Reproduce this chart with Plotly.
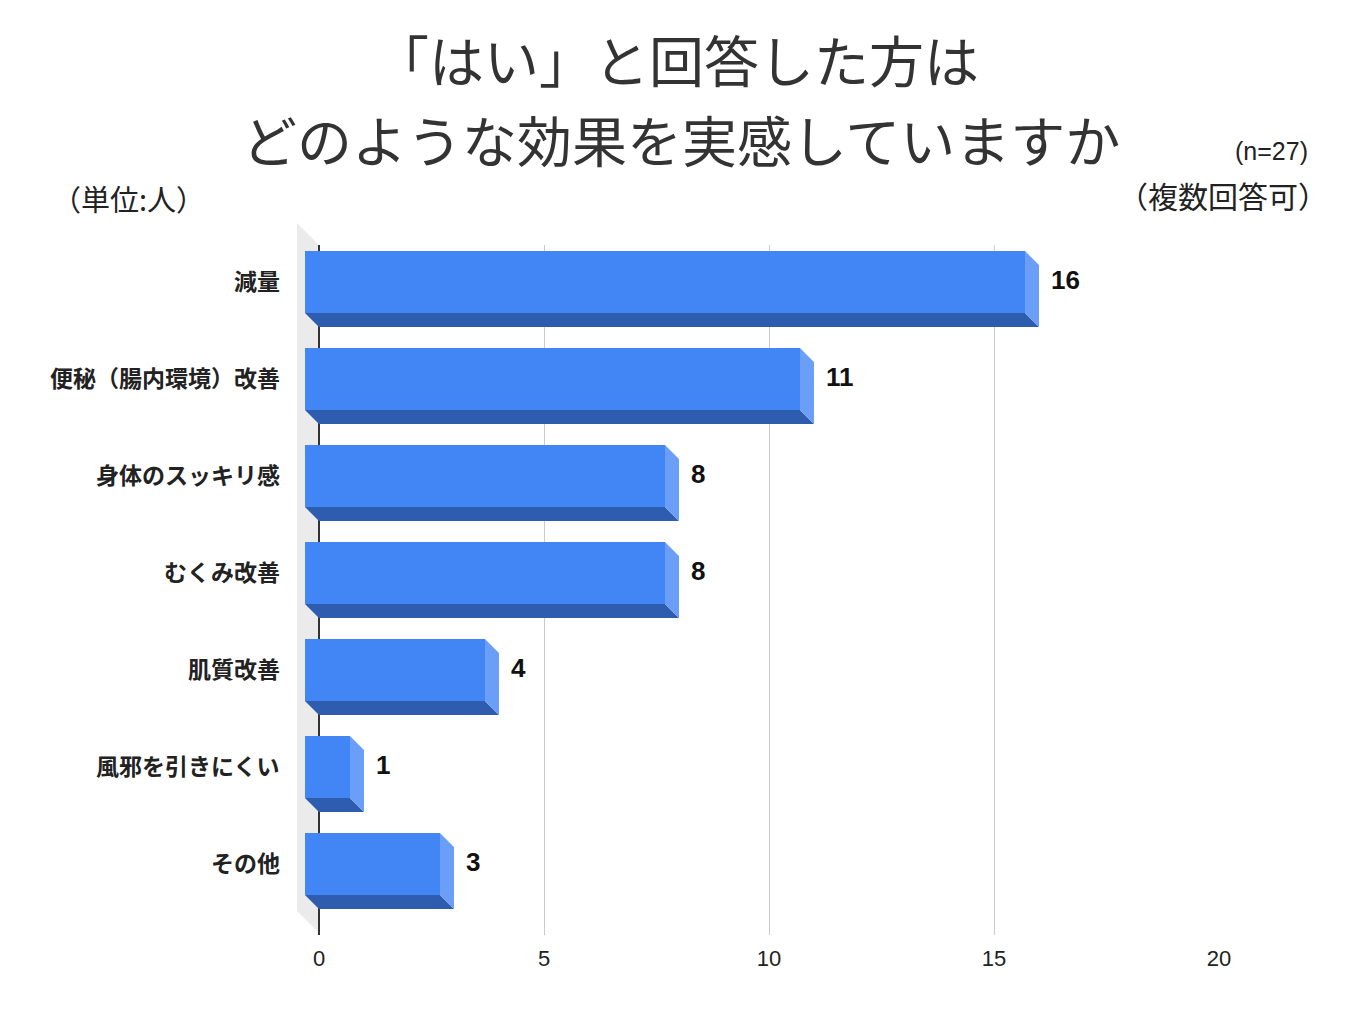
import plotly.graph_objects as go

# ---------------- data ----------------
categories = ["減量", "便秘（腸内環境）改善", "身体のスッキリ感", "むくみ改善",
              "肌質改善", "風邪を引きにくい", "その他"]
values = [16, 11, 8, 8, 4, 1, 3]
x_ticks = [0, 5, 10, 15, 20]
title_lines = ["「はい」と回答した方は", "どのような効果を実感していますか"]
unit_text = "（単位:人）"
n_text = "(n=27)"
multi_text = "（複数回答可）"

# ---------------- layout geometry ----------------
W, H = 1365, 1023
ML, MR, MT, MB = 297, 146, 245, 88
plot_w = W - ML - MR
plot_h = H - MT - MB
WALL_PX = 22          # depth of the left wall (px)
DEPTH_PX = 14         # depth of each bar (px)
x_max = 20
px_per_x = (plot_w - WALL_PX) / x_max
x_min = -WALL_PX / px_per_x
y_top, y_bot = -0.526, 6.588
px_per_y = plot_h / (y_bot - y_top)

dx = DEPTH_PX / px_per_x
dy = DEPTH_PX / px_per_y
half = 31 / px_per_y

FONT_CJK = "Noto Sans CJK JP"
FONT_NUM = "Liberation Sans, Arial"

FRONT = "#4285F4"
BOTTOM = "#2E5CAE"
SIDE = "#6B9FF7"

idx = list(range(len(categories)))

fig = go.Figure()

bx, by = [], []
sx, sy = [], []
for i, v in zip(idx, values):
    fb = i + half - dy     # front bottom
    bb = i + half          # back bottom
    ft = i - half - dy     # front top
    bt = i - half          # back top
    bx += [-dx, v - dx, v, 0, -dx, None]
    by += [fb, fb, bb, bb, fb, None]
    sx += [v - dx, v, v, v - dx, v - dx, None]
    sy += [ft, bt, bb, fb, ft, None]

fig.add_trace(go.Scatter(x=bx, y=by, mode="lines", fill="toself",
                         fillcolor=BOTTOM, line=dict(width=0, color=BOTTOM),
                         hoverinfo="skip", showlegend=False))
fig.add_trace(go.Scatter(x=sx, y=sy, mode="lines", fill="toself",
                         fillcolor=SIDE, line=dict(width=0, color=SIDE),
                         hoverinfo="skip", showlegend=False))
fig.add_trace(go.Bar(x=values, y=[i - dy for i in idx], base=-dx,
                     orientation="h", width=2 * half,
                     marker=dict(color=FRONT, line=dict(width=0)),
                     showlegend=False, hoverinfo="x"))

annotations = []
for i, v in zip(idx, values):
    annotations.append(dict(x=v, y=i, xref="x", yref="y", text=f"<b>{v}</b>",
                            showarrow=False, xanchor="left", xshift=10, yshift=16,
                            font=dict(family=FONT_NUM, size=26, color="#111")))
for i, c in zip(idx, categories):
    annotations.append(dict(x=0, y=i, xref="x", yref="y", text=f"<b>{c}</b>",
                            showarrow=False, xanchor="right", xshift=-37, yshift=16,
                            font=dict(family=FONT_CJK, size=23, color="#222")))


def fig_to_plot(px, py):
    return (px - ML) / plot_w, (H - MB - py) / plot_h


def text_ann(px, py, text, anchor, family, size, color="#222"):
    x, y = fig_to_plot(px, py)
    return dict(x=x, y=y, xref="paper", yref="paper", text=text, showarrow=False,
                xanchor=anchor, yanchor="middle", font=dict(family=family, size=size, color=color))


annotations.append(text_ann(676, 58, title_lines[0], "center", FONT_CJK, 55, "#333"))
annotations.append(text_ann(681, 138, title_lines[1], "center", FONT_CJK, 55, "#333"))
annotations.append(text_ann(50, 198, unit_text, "left", FONT_CJK, 29))
annotations.append(text_ann(1310, 151, n_text, "right", FONT_NUM, 25))
annotations.append(text_ann(1330, 195, multi_text, "right", FONT_CJK, 30))

wall_pts = [fig_to_plot(297, 223), fig_to_plot(319, 245), fig_to_plot(319, 933), fig_to_plot(297, 911)]
path = "M " + " L ".join(f"{x},{y}" for x, y in wall_pts) + " Z"
shapes = [dict(type="path", path=path, xref="paper", yref="paper",
               fillcolor="#EBEBEB", line=dict(width=0), layer="below")]

fig.update_layout(
    width=W, height=H,
    margin=dict(l=ML, r=MR, t=MT, b=MB),
    paper_bgcolor="white", plot_bgcolor="white",
    annotations=annotations, shapes=shapes,
    bargap=0, showlegend=False,
    xaxis=dict(range=[x_min, x_max], tickvals=x_ticks, ticktext=[str(t) for t in x_ticks],
               showgrid=True, gridcolor="#CCCCCC", gridwidth=1,
               zeroline=True, zerolinecolor="#333333", zerolinewidth=1.5,
               showline=False, ticks="", ticklabelstandoff=8,
               tickfont=dict(family=FONT_NUM, size=22, color="#222"), fixedrange=True),
    yaxis=dict(range=[y_bot, y_top], showgrid=False, zeroline=False, showline=False,
               showticklabels=False, ticks="", fixedrange=True),
)

fig.write_html("out.html")
